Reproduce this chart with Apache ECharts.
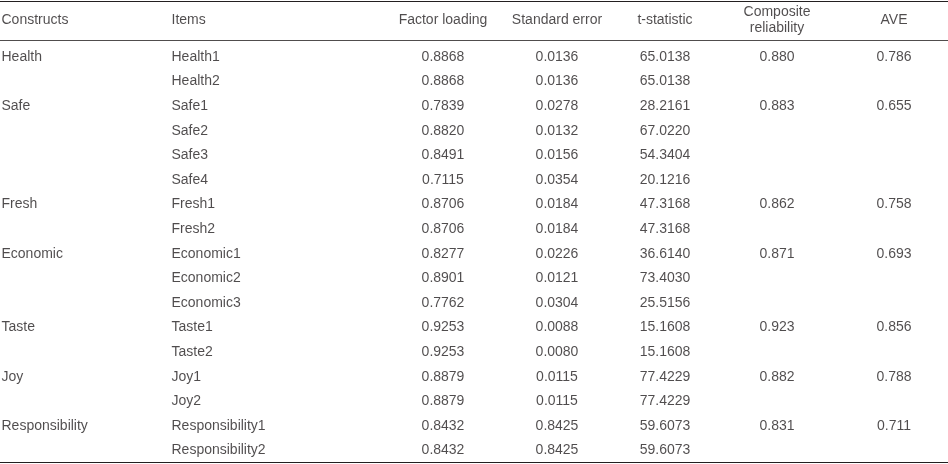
<!DOCTYPE html>
<html>
<head>
<meta charset="utf-8">
<script src="https://cdn.jsdelivr.net/npm/echarts@6/dist/echarts.min.js"></script>
<style>html,body{margin:0;padding:0;background:#fff}#main{width:948px;height:464px}</style>
</head>
<body>
<div id="main"></div>
<script>
// table contents
var headers = ['Constructs', 'Items', 'Factor loading', 'Standard error', 't-statistic', 'Composite\nreliability', 'AVE'];
var constructs = ['Health','','Safe','','','','Fresh','','Economic','','','Taste','','Joy','','Responsibility',''];
var items = ['Health1','Health2','Safe1','Safe2','Safe3','Safe4','Fresh1','Fresh2','Economic1','Economic2','Economic3','Taste1','Taste2','Joy1','Joy2','Responsibility1','Responsibility2'];
var loadings = ['0.8868','0.8868','0.7839','0.8820','0.8491','0.7115','0.8706','0.8706','0.8277','0.8901','0.7762','0.9253','0.9253','0.8879','0.8879','0.8432','0.8432'];
var stdErrors = ['0.0136','0.0136','0.0278','0.0132','0.0156','0.0354','0.0184','0.0184','0.0226','0.0121','0.0304','0.0088','0.0080','0.0115','0.0115','0.8425','0.8425'];
var tStats = ['65.0138','65.0138','28.2161','67.0220','54.3404','20.1216','47.3168','47.3168','36.6140','73.4030','25.5156','15.1608','15.1608','77.4229','77.4229','59.6073','59.6073'];
var reliability = ['0.880','','0.883','','','','0.862','','0.871','','','0.923','','0.882','','0.831',''];
var ave = ['0.786','','0.655','','','','0.758','','0.693','','','0.856','','0.788','','0.711',''];

// layout (pixel units on a 948x464 value grid)
var colX = [1, 171, 443, 557, 665, 777, 894];
var colAlign = ['left','left','center','center','center','center','center'];
var headerY = 20, firstRowY = 57, rowStep = 24.6;

var columns = [constructs, items, loadings, stdErrors, tStats, reliability, ave];
var series = [];
columns.forEach(function (col, c) {
    var data = col.map(function (v, i) {
        return { value: [colX[c], firstRowY + i * rowStep], name: v };
    });
    data.push({ value: [colX[c], headerY], name: headers[c] });
    series.push({
        type: 'scatter',
        symbolSize: 1,
        itemStyle: { color: 'rgba(0,0,0,0)' },
        silent: true,
        data: data,
        label: {
            show: true,
            position: colAlign[c] === 'left' ? 'right' : 'inside',
            distance: 0,
            formatter: function (p) { return p.name; },
            color: '#231f20',
            fontSize: 14,
            lineHeight: 16,
            fontFamily: 'Liberation Sans, Arial, sans-serif'
        }
    });
});
series[0].markLine = {
    silent: true, symbol: 'none', animation: false,
    label: { show: false },
    lineStyle: { color: '#231f20', type: 'solid', width: 1 },
    data: [{ yAxis: 1 }, { yAxis: 40, lineStyle: { width: 0.8 } }, { yAxis: 462 }]
};

var chart = echarts.init(document.getElementById('main'));
chart.setOption({
    animation: false,
    grid: { left: 0, right: 0, top: 0, bottom: 0 },
    xAxis: { type: 'value', min: 0, max: 948, show: false },
    yAxis: { type: 'value', min: 0, max: 464, inverse: true, show: false },
    series: series
});
</script>
</body>
</html>
